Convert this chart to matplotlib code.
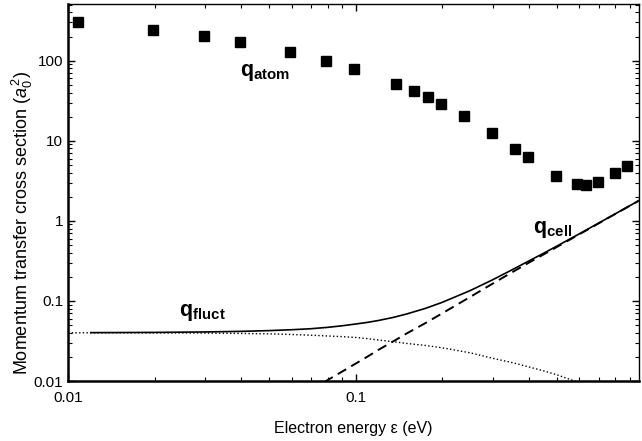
import matplotlib
matplotlib.use("Agg")
import matplotlib.pyplot as plt
import numpy as np
from matplotlib.ticker import LogLocator, NullFormatter, FixedLocator, FixedFormatter

plt.rcParams['font.family'] = ['Liberation Sans', 'DejaVu Sans']
plt.rcParams['mathtext.fontset'] = 'custom'
plt.rcParams['mathtext.rm'] = 'Liberation Sans'
plt.rcParams['mathtext.it'] = 'Liberation Sans:italic'
plt.rcParams['mathtext.bf'] = 'Liberation Sans:bold'

# measured q_atom points
atom_x = [0.0108, 0.0197, 0.0296, 0.0395, 0.0593, 0.0787, 0.099, 0.138, 0.159,
          0.179, 0.198, 0.238, 0.297, 0.357, 0.396, 0.497, 0.59, 0.63, 0.697,
          0.80, 0.875]
atom_y = [305, 244, 205, 171, 129, 100, 79, 51, 42, 34.7, 28.7, 20.1, 12.5,
          7.9, 6.2, 3.68, 2.88, 2.82, 3.05, 3.98, 4.9]

# curves
curve_x = [0.01, 0.012, 0.015, 0.02, 0.03, 0.04, 0.05, 0.06, 0.07, 0.08, 0.09,
           0.1, 0.11, 0.12, 0.135, 0.15, 0.175, 0.2, 0.25, 0.3, 0.35, 0.4,
           0.45, 0.5, 0.6, 0.7, 0.8, 0.97]
fluct_y = [0.0400, 0.0400, 0.0400, 0.0399, 0.0397, 0.0393, 0.0388, 0.0381,
           0.0373, 0.0365, 0.0358, 0.0350, 0.0338, 0.0325, 0.0310, 0.0295,
           0.0278, 0.0260, 0.0225, 0.0192, 0.0170, 0.0150, 0.0134, 0.0120,
           0.0095, 0.0075, 0.0060, 0.0042]
cell_y = [0.00013, 0.00019, 0.00030, 0.00055, 0.0013, 0.0024, 0.0038, 0.0056,
          0.0077, 0.0103, 0.0132, 0.0165, 0.0202, 0.0245, 0.0312, 0.039,
          0.053, 0.070, 0.112, 0.165, 0.228, 0.30, 0.38, 0.47, 0.68, 0.93,
          1.22, 1.80]

fig = plt.figure(figsize=(6.42, 4.41), dpi=100)
ax = fig.add_axes([0.106, 0.136, 0.889, 0.855])

ax.set_xscale('log')
ax.set_yscale('log')

ax.plot(atom_x, atom_y, 's', color='black', ms=6.5)

cx = np.array(curve_x)
fy = np.array(fluct_y)
cy = np.array(cell_y)
ax.plot(cx, fy, ':', color='black', lw=1.0)
ax.plot(cx[8:], cy[8:], '--', color='black', lw=1.4, dashes=(5, 3))
ax.plot(cx[1:], fy[1:] + cy[1:], '-', color='black', lw=1.2)

ax.set_xlim(0.01, 0.965)
ax.set_ylim(0.01, 510)

ax.xaxis.set_major_locator(FixedLocator([0.01, 0.1]))
ax.xaxis.set_major_formatter(FixedFormatter(['0.01', '0.1']))
ax.xaxis.set_minor_locator(LogLocator(base=10, subs=np.arange(2, 10)))
ax.xaxis.set_minor_formatter(NullFormatter())
yt = [0.01, 0.1, 1, 10, 100]
ax.yaxis.set_major_locator(FixedLocator(yt))
ax.yaxis.set_major_formatter(FixedFormatter(['0.01', '0.1', '1', '10', '100']))
ax.yaxis.set_minor_locator(LogLocator(base=10, subs=np.arange(2, 10)))
ax.yaxis.set_minor_formatter(NullFormatter())

ax.tick_params(which='both', direction='in', top=True, right=True, labelsize=11)
ax.tick_params(which='major', length=5, width=1)
ax.tick_params(which='minor', length=3, width=0.8)
ax.tick_params(axis='x', pad=7)
for s in ['left', 'bottom']:
    ax.spines[s].set_linewidth(1.8)
for s in ['top', 'right']:
    ax.spines[s].set_linewidth(1.0)

ax.set_xlabel('Electron energy ε (eV)', fontsize=11.5, labelpad=12)
ax.set_ylabel(r'Momentum transfer cross section $(a_0^{\,2})$', fontsize=13, va='center')
ax.yaxis.set_label_coords(-0.08, 0.42)

ax.text(0.0395, 72, r'$\mathbf{q}_{\mathbf{atom}}$', fontsize=15.5, ha='left', va='center')
ax.text(0.0243, 0.072, r'$\mathbf{q}_{\mathbf{fluct}}$', fontsize=15.5, ha='left', va='center')
ax.text(0.415, 0.78, r'$\mathbf{q}_{\mathbf{cell}}$', fontsize=15.5, ha='left', va='center')

fig.savefig('out.png', dpi=100)
